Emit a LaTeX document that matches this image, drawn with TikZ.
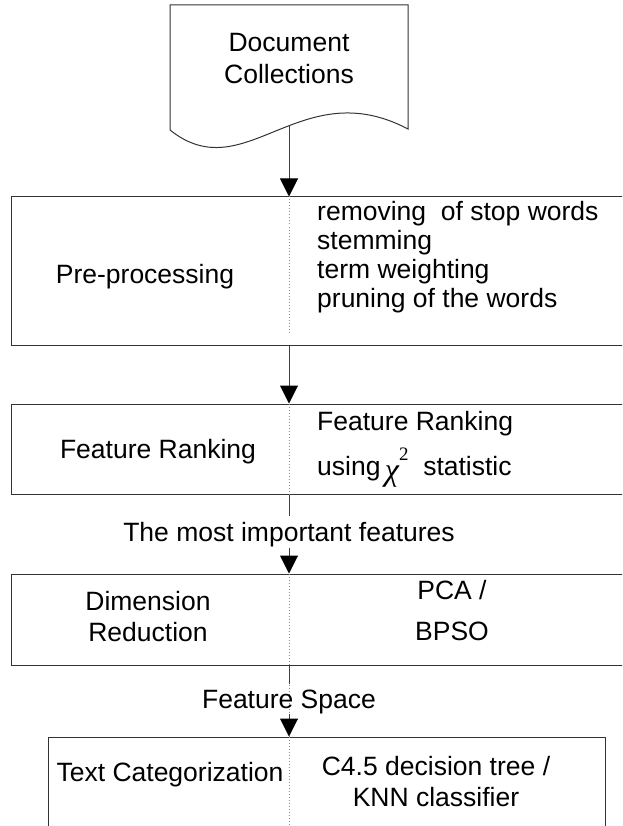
\documentclass[tikz,border=0pt]{standalone}
\usepackage{fontspec}
\setmainfont{Liberation Sans}
\newfontfamily\timesfont{Liberation Serif}
\usetikzlibrary{arrows.meta}

\tikzset{
  box/.style={draw=black!80, line width=1pt, fill=white, inner sep=0pt},
  lbl/.style={inner sep=0pt, font=\fontsize{26.5}{31}\selectfont, text=black},
  conn/.style={draw=black!75, line width=1pt},
  arr/.style={conn, -{Triangle[width=18pt,length=18pt,color=black]}},
  dotline/.style={draw=black!45, line width=0.8pt, dash pattern=on 1pt off 2pt}
}

\begin{document}
\begin{tikzpicture}[x=1pt, y=-1pt]
\useasboundingbox (0,0) rectangle (622,826);
\clip (0,0) rectangle (622,826);
\fill[white] (0,0) rectangle (622,826);

% shared vertical axis of the flow
\coordinate (axis) at (289,0);

% document symbol
\draw[line width=1pt, draw=black!80, fill=white]
  (170,130) -- (170,5) -- (408,5) -- (408,129)
  .. controls (300,72) and (245,190) .. (170,130) -- cycle;
\node[lbl, align=center, font=\fontsize{26.5}{32}\selectfont] (doc) at (289,59) {Document\\Collections};
\coordinate (docstem) at (289,126);

% process boxes (the wide ones run past the right border)
\node[box, minimum width=622pt, minimum height=148pt] (pre)  at (322,271) {};
\node[box, minimum width=622pt, minimum height=90pt]  (rank) at (322,449) {};
\node[box, minimum width=622pt, minimum height=91pt]  (dim)  at (322,619.5) {};
\node[box, minimum width=557pt, minimum height=133pt] (cat)  at (326.5,803.5) {};

% dotted centre lines inside the boxes
\draw[dotline] (axis |- pre.north) -- ++(0,136);
\draw[dotline] (axis |- rank.north) -- (axis |- rank.south);
\draw[dotline] (axis |- dim.north) -- (axis |- cat.north);
\draw[dotline] (axis |- cat.north) -- (axis |- cat.south);

% box texts
\node[lbl] (pretxt) at (145,277) {Pre-processing};
\node[lbl, anchor=west, align=left, font=\fontsize{26.5}{29}\selectfont] (prelist) at (317,257)
  {removing\ \ of stop words\\stemming\\term weighting\\pruning of the words};

\node[lbl] (ranktxt) at (158,452) {Feature Ranking};
\node[lbl, anchor=west] (rankr1) at (317,424) {Feature Ranking};
\node[lbl, anchor=west] (rankr2) at (317,468)
  {using\,\raisebox{-5pt}{\timesfont\itshape\fontsize{32}{32}\selectfont χ}\raisebox{15pt}{\timesfont\fontsize{19}{19}\selectfont 2}\ \ statistic};

\node[lbl, align=center] (dimtxt) at (148,617) {Dimension\\Reduction};
\node[lbl, align=center, font=\fontsize{26.5}{41}\selectfont] (dimr) at (452,611) {PCA /\\BPSO};

\node[lbl] (cattxt) at (170,775) {Text Categorization};
\node[lbl, align=center] (catr) at (436,782) {C4.5 decision tree /\\KNN classifier};

% connector labels
\node[lbl] (imp) at (289,535) {The most important features};
\node[lbl] (fs) at (289,702) {Feature Space};

% connectors
\draw[arr] (docstem) -- (docstem |- pre.north);
\draw[arr] (axis |- pre.south) -- (axis |- rank.north);
\draw[conn] (axis |- rank.south) -- ++(0,21);
\draw[arr] (axis |- imp.south) -- (axis |- dim.north);
\draw[conn] (axis |- dim.south) -- ++(0,18);
\draw[arr] (axis |- fs.south) -- (axis |- cat.north);
\end{tikzpicture}
\end{document}
